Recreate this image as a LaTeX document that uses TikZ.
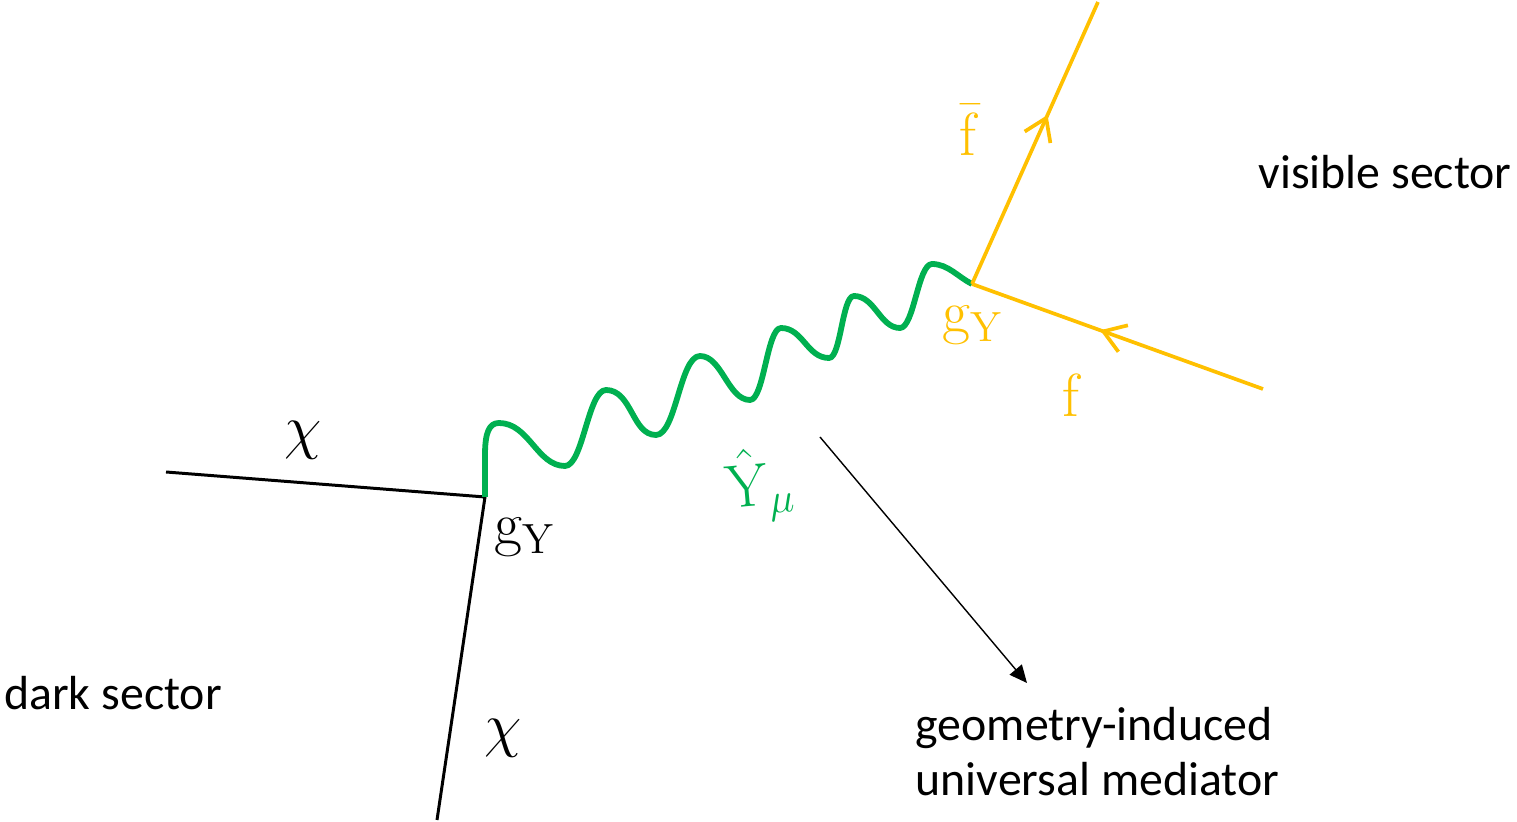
\documentclass[tikz,border=0pt]{standalone}
\usepackage[no-math]{fontspec}
\setmainfont{Carlito}
\usetikzlibrary{arrows.meta,decorations.markings}
\definecolor{medgreen}{RGB}{0,176,80}
\definecolor{fermyellow}{RGB}{255,192,0}

\tikzset{
    darkline/.style={line width=0.85pt, black},
    fermion/.style={line width=1.05pt, fermyellow, postaction={decorate},
        decoration={markings, mark=at position #1 with {\arrow{Straight Barb[length=6pt,width=8pt]}}}},
    fermion/.default=0.55,
    photon/.style={line width=1.65pt, medgreen},
    lbl/.style={inner sep=0pt, font=\fontsize{17}{20}\selectfont},
    sector/.style={inner sep=0pt, font=\fontsize{13.6}{15.6}\selectfont, align=left},
}

\begin{document}
\begin{tikzpicture}[x={(0.01cm,0)}, y={(0,-0.01cm)}]
    \useasboundingbox (0,0) rectangle (1517,822);

    % Vertices and external ends
    \coordinate (dv) at (485,497);
    \coordinate (vv) at (972,284);
    \coordinate (chiA) at (166,472);
    \coordinate (chiB) at (437,820);
    \coordinate (fbarEnd) at (1098,2);
    \coordinate (fEnd) at (1263,389);
    \coordinate (medTail) at (820,437);
    \coordinate (medHead) at (1027,683);

    % Dark sector lines
    \draw[darkline] (chiA) -- (dv) -- (chiB);

    % Mediator (wavy line)
    \draw[photon, line join=round] (dv) -- (485,455)
        .. controls +(0,-22) and +(-10,0) .. (499,423)
        .. controls +(30,0) and +(-28,0) .. (565,466)
        .. controls +(18,0) and +(-18,0) .. (606,390)
        .. controls +(26,0) and +(-24,0) .. (656,435)
        .. controls +(20,0) and +(-20,0) .. (700,356)
        .. controls +(22,0) and +(-22,0) .. (750,400)
        .. controls +(14,0) and +(-14,0) .. (781,328)
        .. controls +(22,0) and +(-22,0) .. (829,358)
        .. controls +(12,0) and +(-12,0) .. (854,296)
        .. controls +(21,0) and +(-20,0) .. (900,328)
        .. controls +(14,0) and +(-14,0) .. (932,264)
        .. controls +(16,0) and +(-14,-7) .. (vv);

    % Visible sector lines
    \draw[fermion=0.6] (vv) -- (fbarEnd);
    \draw[fermion=0.56] (fEnd) -- (vv);

    % Pointer to the mediator
    \draw[line width=0.4pt, -{Triangle[length=5pt,width=4.5pt]}] (medTail) -- (medHead);

    % Labels
    \node[lbl] (chiTop) at (303,440) {$\chi$};
    \node[lbl] (chiBot) at (503,738) {$\chi$};
    \node[lbl] (gDark) at (525,537) {$\mathrm{g}_{\mathrm{Y}}$};
    \node[lbl, fermyellow] (gVis) at (973,325) {$\mathrm{g}_{\mathrm{Y}}$};
    \node[lbl, fermyellow] (fbarLbl) at (970,130) {$\bar{\mathrm{f}}$};
    \node[lbl, fermyellow] (fLbl) at (1073,395) {$\mathrm{f}$};
    \node[lbl, medgreen, rotate=5] (yLbl) at (760,485) {$\hat{\mathrm{Y}}_{\mu}$};

    \node[sector] (visible) at (1385,172) {visible sector};
    \node[sector] (dark) at (113,693) {dark sector};
    \node[sector, anchor=west] (mediator) at (915,752) {geometry-induced\\universal mediator};
\end{tikzpicture}
\end{document}
